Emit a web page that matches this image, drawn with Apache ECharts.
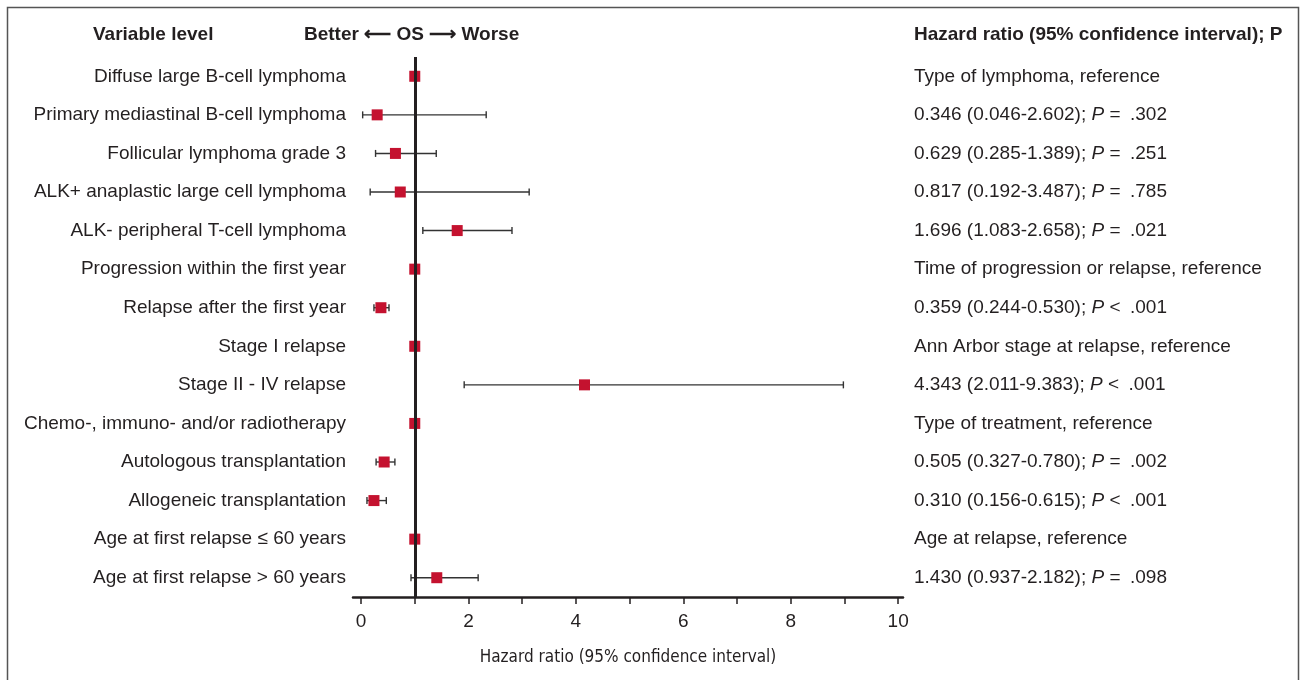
<!DOCTYPE html>
<html lang="en">
<head>
    <meta charset="UTF-8">
    <title>Forest plot</title>
    <script src="https://cdn.jsdelivr.net/npm/echarts@6/dist/echarts.min.js"></script>
</head>
<style type="text/css">
    html,body,#chart{
        width: 100%;
        height: 100%;
        margin: 0;
        padding: 0;
        background: #fff;
    }
</style>
<body>
<div id="chart"></div>
<script>
    // row labels (top to bottom)
    var rows = [
        'Diffuse large B-cell lymphoma',
        'Primary mediastinal B-cell lymphoma',
        'Follicular lymphoma grade 3',
        'ALK+ anaplastic large cell lymphoma',
        'ALK- peripheral T-cell lymphoma',
        'Progression within the first year',
        'Relapse after the first year',
        'Stage I relapse',
        'Stage II - IV relapse',
        'Chemo-, immuno- and/or radiotherapy',
        'Autologous transplantation',
        'Allogeneic transplantation',
        'Age at first relapse \u2264 60 years',
        'Age at first relapse > 60 years'
    ];
    // hazard ratio as drawn, with lower / upper CI (null = reference row)
    var hr    = [1, 0.30, 0.64, 0.73, 1.79, 1, 0.37, 1, 4.16, 1, 0.43, 0.24, 1, 1.41];
    var lower = [null, 0.03, 0.27, 0.17, 1.15, null, 0.24, null, 1.92, null, 0.28, 0.11, null, 0.93];
    var upper = [null, 2.33, 1.40, 3.13, 2.81, null, 0.52, null, 8.98, null, 0.63, 0.47, null, 2.18];
    // right column text
    var hrText = [
        'Type of lymphoma, reference',
        '0.346 (0.046-2.602)',
        '0.629 (0.285-1.389)',
        '0.817 (0.192-3.487)',
        '1.696 (1.083-2.658)',
        'Time of progression or relapse, reference',
        '0.359 (0.244-0.530)',
        'Ann Arbor stage at relapse, reference',
        '4.343 (2.011-9.383)',
        'Type of treatment, reference',
        '0.505 (0.327-0.780)',
        '0.310 (0.156-0.615)',
        'Age at relapse, reference',
        '1.430 (0.937-2.182)'
    ];
    var pText = [null, '= .302', '= .251', '= .785', '= .021', null, '< .001', null, '< .001', null, '= .002', '< .001', null, '= .098'];
    var xTicks = [0, 1, 2, 3, 4, 5, 6, 7, 8, 9, 10];
    var xLabels = [0, 2, 4, 6, 8, 10];

    var textColor = '#231f20';
    var font = 'Liberation Sans, Arial, Helvetica, sans-serif';
    var fs = 19;

    var rightLabels = [];
    for (var i = 0; i < hrText.length; i++) {
        rightLabels.push(pText[i] ? hrText[i] + '; {i|P} ' + pText[i].replace(' ', '\u2002') : hrText[i]);
    }
    var ciData = [];
    var ptData = [];
    for (var j = 0; j < rows.length; j++) {
        if (lower[j] !== null) ciData.push([lower[j], upper[j], j]);
        ptData.push([hr[j], j]);
    }

    var myChart = echarts.init(document.getElementById('chart'));
    var option = {
        animation: false,
        grid: {left: 353, right: 398, top: 57, bottom: 83},
        graphic: [
            {type: 'rect', shape: {x: 7.5, y: 7.5, width: 1291, height: 700},
             style: {fill: null, stroke: '#555', lineWidth: 1.5}, silent: true},
            {type: 'text', left: 93, top: 25,
             style: {text: 'Variable level', font: 'bold ' + fs + 'px ' + font, fill: textColor}},
            {type: 'text', left: 304, top: 25,
             style: {text: 'Better \u27f5 OS \u27f6 Worse', font: 'bold ' + fs + 'px ' + font, fill: textColor}},
            {type: 'text', left: 914, top: 25,
             style: {text: 'Hazard ratio (95% confidence interval); P', font: 'bold ' + fs + 'px ' + font, fill: textColor}}
        ],
        xAxis: {
            type: 'value',
            min: -0.15,
            max: 10.09,
            name: 'Hazard ratio (95% confidence interval)',
            nameLocation: 'middle',
            nameGap: 52,
            nameTextStyle: {
                fontFamily: 'DejaVu Sans Condensed, sans-serif',
                fontSize: 17, color: textColor
            },
            splitLine: {show: false},
            axisLine: {show: true, onZero: false, lineStyle: {color: textColor, width: 2.5}},
            axisTick: {show: true, inside: false, customValues: xTicks, length: 7, lineStyle: {color: textColor, width: 1.5}},
            axisLabel: {customValues: xLabels, fontFamily: font, fontSize: fs, color: textColor, margin: 15}
        },
        yAxis: [{
            type: 'category',
            inverse: true,
            data: rows,
            axisLine: {show: false},
            axisTick: {show: false},
            axisLabel: {fontFamily: font, fontSize: fs, color: textColor, margin: 7}
        }, {
            type: 'category',
            inverse: true,
            position: 'right',
            data: rightLabels,
            axisLine: {show: false},
            axisTick: {show: false},
            axisLabel: {
                fontFamily: font, fontSize: fs, color: textColor, margin: 11,
                rich: {i: {fontFamily: font, fontSize: fs, color: textColor, fontStyle: 'italic'}}
            }
        }],
        series: [{
            type: 'custom',
            data: ciData,
            encode: {x: [0, 1], y: 2},
            renderItem: function (params, api) {
                var a = api.coord([api.value(0), api.value(2)]);
                var b = api.coord([api.value(1), api.value(2)]);
                var h = 3.5;
                var st = {stroke: '#333', lineWidth: 1.4};
                return {
                    type: 'group',
                    children: [
                        {type: 'line', shape: {x1: a[0], y1: a[1], x2: b[0], y2: b[1]}, style: st},
                        {type: 'line', shape: {x1: a[0], y1: a[1] - h, x2: a[0], y2: a[1] + h}, style: st},
                        {type: 'line', shape: {x1: b[0], y1: b[1] - h, x2: b[0], y2: b[1] + h}, style: st}
                    ]
                };
            },
            z: 2
        }, {
            type: 'scatter',
            data: ptData,
            symbol: 'rect',
            symbolSize: 11,
            itemStyle: {color: '#c4122f', opacity: 1},
            z: 4,
            markLine: {
                silent: true,
                symbol: 'none',
                label: {show: false},
                lineStyle: {color: textColor, width: 3, type: 'solid'},
                data: [{xAxis: 1}]
            }
        }]
    };
    myChart.setOption(option);
</script>
</body>
</html>
